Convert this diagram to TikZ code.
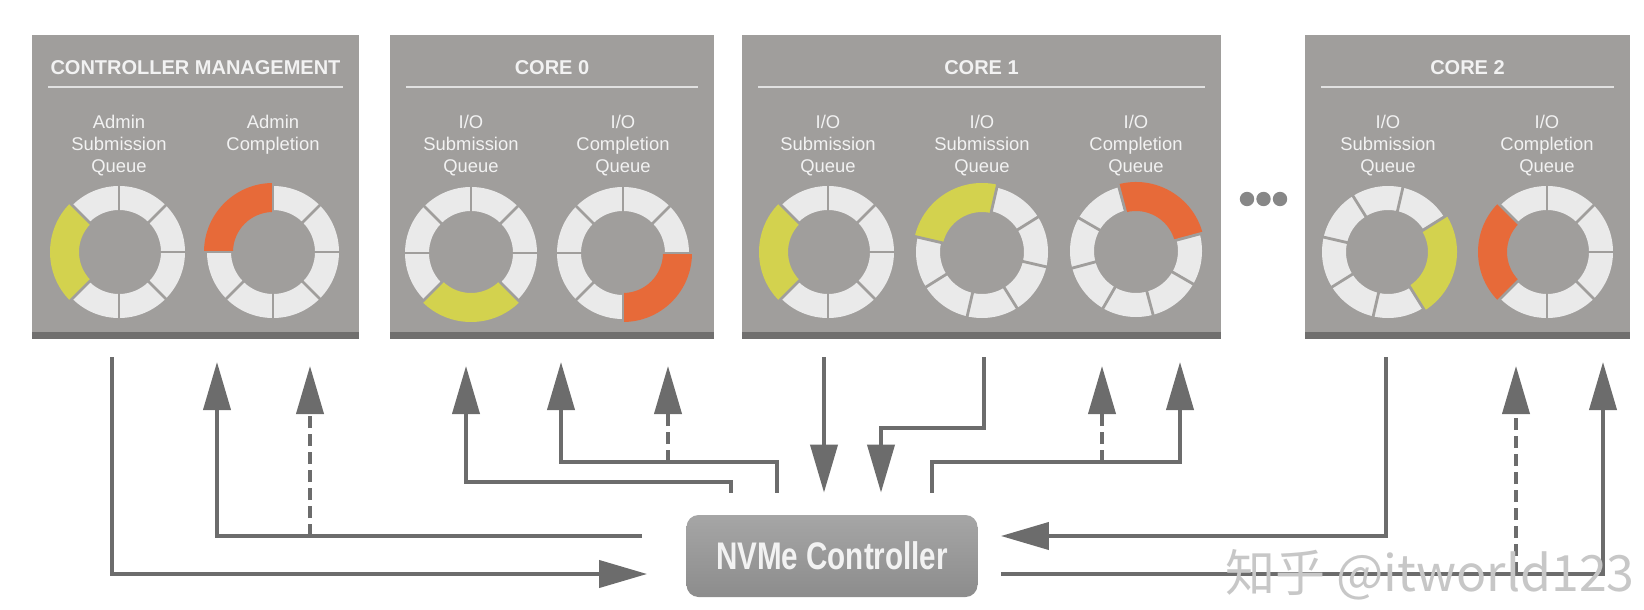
\documentclass[tikz,border=0pt]{standalone}
\usepackage{fontspec}
\setmainfont{Liberation Sans}
\newfontfamily\cjk{Noto Sans CJK SC}
\usepackage{graphicx}
\usepackage{tikz}
\usetikzlibrary{arrows.meta,positioning,calc}

\definecolor{cajagris}{RGB}{160,158,156}
\definecolor{cajasombra}{RGB}{112,111,110}
\definecolor{segblanco}{RGB}{234,234,234}
\definecolor{amarillo}{RGB}{211,210,78}
\definecolor{naranja}{RGB}{231,106,57}
\definecolor{flechagris}{RGB}{108,108,108}
\definecolor{textoclaro}{RGB}{242,242,242}
\definecolor{puntogris}{RGB}{135,135,135}

\tikzset{
    cajacola/.style={
        rectangle,                % caja de cada núcleo
        fill=cajagris,            % gris medio de fondo
        inner sep=0pt, outer sep=0pt,
        minimum height=152pt,     % todas las cajas igual de altas
        path picture={\fill[cajasombra] (path picture bounding box.south west)
            rectangle ([yshift=3.5pt]path picture bounding box.south east);} % franja oscura abajo
    },
    titulo/.style={
        font=\fontsize{10}{12}\selectfont\bfseries, % título en negrita
        text=textoclaro,
        inner sep=0pt
    },
    etiqueta/.style={
        font=\fontsize{9.2}{11}\selectfont, % nombre de la cola
        text=textoclaro,
        align=center,
        anchor=north,             % se alinea por arriba
        inner sep=0pt
    },
    raya/.style={
        draw=textoclaro!85!gray,  % línea bajo el título
        line width=0.8pt
    },
    corte/.style={
        draw=cajagris,            % separación entre segmentos del anillo
        line width=1.4pt
    },
    flecha/.style={
        draw=flechagris,
        line width=2pt,
        -{Triangle[length=24pt,width=13.5pt]} % punta grande y rellena
    },
    discontinua/.style={
        flecha,
        dash pattern=on 6pt off 3pt % timbre (doorbell) en discontinua
    },
    controlador/.style={
        rectangle,
        rounded corners=6pt,
        top color=black!35,       % degradado suave de arriba a abajo
        bottom color=black!45,
        minimum width=145.5pt,
        minimum height=41pt,
        font=\fontsize{14.8}{16}\selectfont\bfseries,
        text=textoclaro
    },
    marca/.style={
        font=\cjk\fontsize{25}{25}\selectfont, % marca de agua
        text=black!22
    }
}

% anillo de 8 segmentos: centro, giro, tramo de color (0-7), color
\newcommand{\anillo}[4]{%
    \begin{scope}[shift={(#1)}]
        \fill[segblanco, even odd rule] (0,0) circle[radius=33pt] (0,0) circle[radius=21pt];
        \fill[#4] (#2+45*#3:34.5pt) arc[start angle=#2+45*#3, delta angle=90, radius=34.5pt]
            -- (#2+45*#3+90:20pt) arc[start angle=#2+45*#3+90, delta angle=-90, radius=20pt] -- cycle;
        \pgfmathtruncatemacro{\salto}{mod(#3+1,8)}
        \foreach \i in {0,...,7}{%
            \ifnum\i=\salto\else
                \draw[corte] (#2+45*\i:18pt) -- (#2+45*\i:37pt);
            \fi
        }
    \end{scope}%
}

\begin{document}
\begin{tikzpicture}[x=0.5pt, y=0.5pt]
    \useasboundingbox (0,0) rectangle (1644,-610);

    % cajas
    \node[cajacola, minimum width=163.5pt, anchor=north west] (mgmt) at (32,-35) {};
    \node[cajacola, minimum width=162pt, right=15.5pt of mgmt] (core0) {};
    \node[cajacola, minimum width=239.5pt, right=14pt of core0] (core1) {};
    \node[cajacola, minimum width=162.5pt, right=42pt of core1] (core2) {};

    \node[titulo] (mgmt-tit) at ([yshift=-16.5pt]mgmt.north) {CONTROLLER MANAGEMENT};
    \node[titulo] (core0-tit) at ([yshift=-16.5pt]core0.north) {CORE 0};
    \node[titulo] (core1-tit) at ([yshift=-16.5pt]core1.north) {CORE 1};
    \node[titulo] (core2-tit) at ([yshift=-16.5pt]core2.north) {CORE 2};
    \draw[raya] ([xshift=8pt,yshift=-26pt]mgmt.north west) -- ([xshift=-8pt,yshift=-26pt]mgmt.north east);
    \draw[raya] ([xshift=8pt,yshift=-26pt]core0.north west) -- ([xshift=-8pt,yshift=-26pt]core0.north east);
    \draw[raya] ([xshift=8pt,yshift=-26pt]core1.north west) -- ([xshift=-8pt,yshift=-26pt]core1.north east);
    \draw[raya] ([xshift=8pt,yshift=-26pt]core2.north west) -- ([xshift=-8pt,yshift=-26pt]core2.north east);

    % colas
    \node[etiqueta] (mgmt-sq) at (119,-115) {Admin\\Submission\\Queue};
    \node[etiqueta] (mgmt-cq) at (273,-115) {Admin\\Completion};
    \node[etiqueta] (core0-sq) at (471,-115) {I/O\\Submission\\Queue};
    \node[etiqueta] (core0-cq) at (623,-115) {I/O\\Completion\\Queue};
    \node[etiqueta] (core1-sq1) at (828,-115) {I/O\\Submission\\Queue};
    \node[etiqueta] (core1-sq2) at (982,-115) {I/O\\Submission\\Queue};
    \node[etiqueta] (core1-cq) at (1136,-115) {I/O\\Completion\\Queue};
    \node[etiqueta] (core2-sq) at (1388,-115) {I/O\\Submission\\Queue};
    \node[etiqueta] (core2-cq) at (1547,-115) {I/O\\Completion\\Queue};

    \anillo{119,-252}{0}{3}{amarillo}
    \anillo{273,-252}{0}{2}{naranja}
    \anillo{471,-253}{0}{5}{amarillo}
    \anillo{623,-253}{0}{6}{naranja}
    \anillo{828,-252}{0}{3}{amarillo}
    \anillo{982,-252}{-13}{2}{amarillo}
    \anillo{1136,-251}{15}{0}{naranja}
    \anillo{1388,-252}{-13}{7}{amarillo}
    \anillo{1547,-252}{0}{3}{naranja}

    \fill[puntogris] (1247,-199) circle[radius=3.6pt] (1263.5,-199) circle[radius=3.6pt] (1280,-199) circle[radius=3.6pt];

    \node[controlador] (nvme) at (832,-556) {\scalebox{1}[1.3]{NVMe Controller}};

    % conexiones
    \draw[flecha] ($(mgmt.south west)+(80,-18)$) |- ($(nvme.west)+(-39,-18)$);
    \draw[flecha] ($(nvme.west)+(-44,20)$) -| ($(mgmt.south west)+(185,-23)$);
    \draw[discontinua] ($(mgmt.south west)+(278,-197)$) -- ($(mgmt.south west)+(278,-27)$);

    \draw[flecha] ($(nvme.north west)+(45,22)$) |- ($(core0.south west)+(76,-143)$) -- ($(core0.south west)+(76,-27)$);
    \draw[flecha] ($(nvme.north west)+(91,22)$) |- ($(core0.south west)+(171,-123)$) -- ($(core0.south west)+(171,-23)$);
    \draw[discontinua] ($(core0.south west)+(278,-123)$) -- ($(core0.south west)+(278,-27)$);

    \draw[flecha] ($(core1.south west)+(82,-18)$) -- ($(nvme.north)+(-8,22)$);
    \draw[flecha] ($(core1.south west)+(242,-18)$) |- ($(core1.south west)+(139,-89)$) -- ($(nvme.north)+(49,22)$);
    \draw[flecha] ($(nvme.north)+(100,22)$) |- ($(core1.south west)+(438,-123)$) -- ($(core1.south west)+(438,-23)$);
    \draw[discontinua] ($(core1.south west)+(360,-123)$) -- ($(core1.south west)+(360,-27)$);

    \draw[flecha] ($(core2.south west)+(81,-18)$) |- ($(nvme.east)+(23,20)$);
    \draw[flecha] ($(nvme.east)+(23,-18)$) -| ($(core2.south west)+(298,-23)$);
    \draw[discontinua] ($(core2.south west)+(211,-235)$) -- ($(core2.south west)+(211,-27)$);

    \node[marca] (marca) at (1430,-575) {知乎 @itworld123};
\end{tikzpicture}
\end{document}
